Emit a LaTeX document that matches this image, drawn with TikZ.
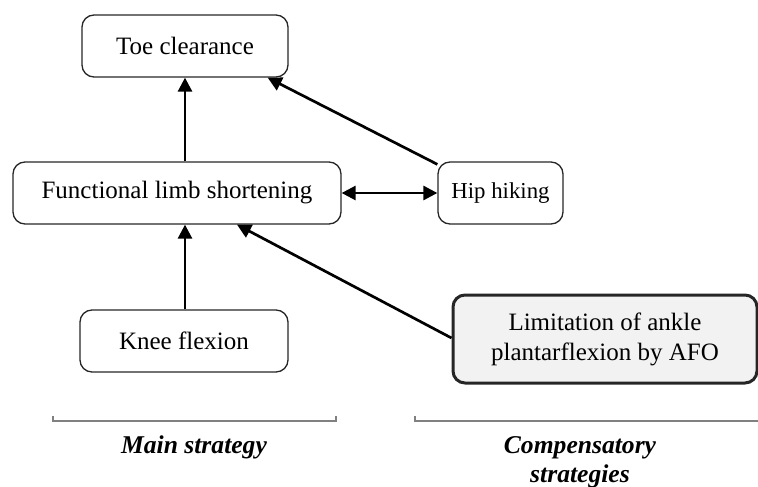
\documentclass[tikz,border=0pt]{standalone}
\usepackage{fontspec}
\setmainfont{Liberation Serif}
\usetikzlibrary{arrows.meta,calc}
\begin{document}
\begin{tikzpicture}[x=0.5pt,y=-0.5pt,
  box/.style={draw=black!85, line width=0.65pt, rounded corners=6pt, inner sep=0pt,
    minimum height=31pt, font=\fontsize{12.5}{15}\selectfont, align=center},
  arr/.style={line width=1.35pt, -{Triangle[length=7pt,width=7pt]}},
  darr/.style={line width=1.35pt, {Triangle[length=7pt,width=7pt]}-{Triangle[length=7pt,width=7pt]}},
  brk/.style={draw=black!50, line width=0.6pt},
  lab/.style={font=\fontsize{12.8}{14.5}\selectfont\bfseries\itshape, align=center, inner sep=0pt}]
\useasboundingbox (0,0) rectangle (758,486);
\node[box, minimum width=103pt] (toe) at (185,46) {Toe clearance};
\node[box, minimum width=164pt] (func) at (177,193) {Functional limb shortening};
\node[box, minimum width=62.5pt, font=\fontsize{11.4}{14}\selectfont] (hip) at (500.5,193) {Hip hiking};
\node[box, minimum width=104pt] (knee) at (184,341) {Knee flexion};
\node[box, minimum width=152pt, minimum height=44pt, fill=black!5, line width=1.5pt] (lim) at (605,339) {Limitation of ankle\\plantarflexion by AFO};

\draw[arr] ([xshift=4pt]func.north) -- (toe.south);
\draw[arr] ([yshift=-1.5pt]hip.north west) -- ([xshift=-10.5pt]toe.south east);
\draw[darr] (func.east) -- (hip.west);
\draw[arr] ([xshift=0.5pt]knee.north) -- ([xshift=4pt]func.south);
\draw[arr] ([yshift=0.5pt]lim.west) -- ([xshift=30pt]func.south);

\coordinate (b1) at (53,416);
\coordinate (b2) at (336,416);
\draw[brk] (b1) -- ++(0,5) -- (336,421) -- (b2);
\coordinate (c1) at (415,416);
\draw[brk] (c1) -- ++(0,5) -- (758,421);

\node[lab, anchor=base] (main) at (194,453) {Main strategy};
\node[lab, anchor=base] (comp1) at (580,453) {Compensatory};
\node[lab, anchor=base] (comp2) at (580,482) {strategies};
\end{tikzpicture}
\end{document}
